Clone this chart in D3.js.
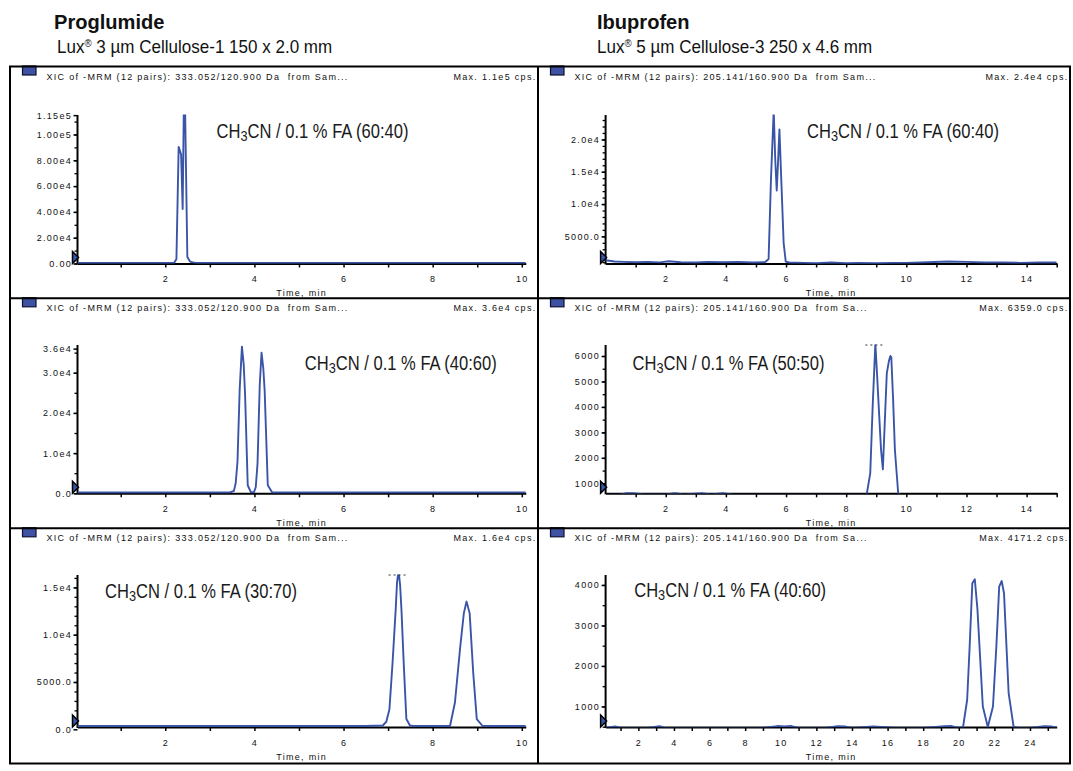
<!DOCTYPE html>
<html><head><meta charset="utf-8">
<script src="https://cdn.jsdelivr.net/npm/d3@7"></script>
<style>
html,body{margin:0;padding:0;background:#fff;}
svg{display:block;}
</style></head><body>
<svg id="chart" width="1073" height="771"></svg>
<script>
// ---------------- DATA ----------------
const compounds = ["Proglumide", "Ibuprofen"];
const columnPrefix = ["Lux", "Lux"];
const columnRest = [" 3 µm Cellulose-1 150 x 2.0 mm", " 5 µm Cellulose-3 250 x 4.6 mm"];
const headerLeft = "XIC of -MRM (12 pairs): 333.052/120.900 Da  from Sam...";
const headerRightA = "XIC of -MRM (12 pairs): 205.141/160.900 Da  from Sam...";
const headerRightB = "XIC of -MRM (12 pairs): 205.141/160.900 Da  from Sa...";
const maxTexts = ["Max. 1.1e5 cps.", "Max. 2.4e4 cps.", "Max. 3.6e4 cps.", "Max. 6359.0 cps.", "Max. 1.6e4 cps.", "Max. 4171.2 cps."];
const ratios = ["60:40", "60:40", "40:60", "50:50", "30:70", "40:60"];
const xAxisTitle = "Time, min";

// Proglumide, CH3CN / 0.1 % FA (60:40)
const p1Time = [0.03, 0.5, 1.0, 1.5, 2.0, 2.2, 2.25, 2.30, 2.355, 2.39, 2.415, 2.445, 2.495, 2.556, 2.62, 2.69, 3.0, 4.0, 5.0, 6.0, 7.0, 8.0, 9.0, 10.09];
const p1Int  = [500, 500, 500, 500, 500, 600, 3500, 90400, 84400, 42300, 118000, 118000, 5000, 1500, 900, 500, 500, 500, 500, 500, 500, 500, 500, 500];
const p1YTicks = [0, 20000, 40000, 60000, 80000, 100000, 115000];
const p1YLabels = ["0.00", "2.00e4", "4.00e4", "6.00e4", "8.00e4", "1.00e5", "1.15e5"];

// Ibuprofen, CH3CN / 0.1 % FA (60:40)
const p2Time = [0, 0.3, 0.6, 1.0, 1.4, 1.8, 2.1, 2.5, 3.0, 3.4, 3.9, 4.4, 4.9, 5.3, 5.42, 5.5, 5.59, 5.64, 5.69, 5.73, 5.78, 5.84, 5.92, 5.99, 6.1, 6.6, 7.0, 7.5, 8.0, 8.4, 9.0, 9.5, 10.0, 10.7, 11.4, 12.0, 12.6, 13.2, 13.8, 14.4, 15.0];
const p2Int  = [1300, 1100, 1050, 1000, 1050, 980, 1150, 1000, 950, 1050, 1000, 1050, 950, 1000, 1500, 14000, 24500, 17000, 12100, 16000, 21560, 14000, 4000, 1100, 950, 900, 850, 950, 850, 900, 850, 900, 900, 1000, 1100, 1050, 950, 950, 900, 950, 950];
const p2YTicks = [5000, 10000, 15000, 20000];
const p2YLabels = ["5000.0", "1.0e4", "1.5e4", "2.0e4"];

// Proglumide, CH3CN / 0.1 % FA (40:60)
const p3Time = [0.03, 1.0, 2.0, 3.0, 3.45, 3.54, 3.58, 3.62, 3.67, 3.72, 3.76, 3.79, 3.85, 3.92, 3.99, 4.03, 4.07, 4.12, 4.16, 4.20, 4.23, 4.30, 4.40, 5.0, 6.0, 7.0, 8.0, 9.0, 10.09];
const p3Int  = [200, 200, 200, 200, 200, 600, 2500, 7850, 26000, 36500, 32000, 24700, 2000, 300, 300, 1500, 7450, 27000, 35000, 31000, 25550, 2000, 200, 200, 200, 200, 200, 200, 200];
const p3YTicks = [0, 10000, 20000, 30000, 36000];
const p3YLabels = ["0.0", "1.0e4", "2.0e4", "3.0e4", "3.6e4"];

// Ibuprofen, CH3CN / 0.1 % FA (50:50)
const p4Time = [0, 0.5, 0.7, 0.9, 1.3, 2.0, 2.3, 2.6, 3.2, 3.5, 3.9, 4.2, 5.0, 6.0, 7.0, 8.0, 8.5, 8.68, 8.80, 8.88, 8.97, 9.03, 9.10, 9.16, 9.22, 9.28, 9.35, 9.42, 9.47, 9.50, 9.56, 9.62, 9.73, 9.85, 10.5, 12.0, 13.5, 15.0];
const p4Int  = [550, 560, 615, 610, 560, 560, 615, 560, 610, 560, 615, 560, 550, 550, 550, 550, 550, 550, 1393, 4000, 6500, 5200, 3616, 2300, 1550, 3300, 5320, 5800, 6000, 5950, 4300, 2308, 600, 520, 520, 520, 520, 520];
const p4YTicks = [1000, 2000, 3000, 4000, 5000, 6000];
const p4YLabels = ["1000", "2000", "3000", "4000", "5000", "6000"];

// Proglumide, CH3CN / 0.1 % FA (30:70)
const p5Time = [0.03, 1.0, 2.0, 3.0, 4.0, 5.0, 6.0, 6.5, 6.88, 6.96, 7.03, 7.10, 7.17, 7.20, 7.235, 7.27, 7.30, 7.35, 7.41, 7.49, 7.57, 8.0, 8.39, 8.50, 8.62, 8.70, 8.76, 8.83, 8.91, 8.99, 9.12, 9.5, 10.09];
const p5Int  = [350, 350, 350, 350, 350, 350, 350, 350, 400, 800, 2130, 7030, 12620, 15500, 16800, 15200, 12620, 7030, 1080, 400, 350, 350, 350, 2830, 8780, 12280, 13500, 12280, 5980, 1080, 350, 350, 350];
const p5YTicks = [0, 5000, 10000, 15000];
const p5YLabels = ["0.0", "5000.0", "1.0e4", "1.5e4"];

// Ibuprofen, CH3CN / 0.1 % FA (40:60)
const p6Time = [0.16, 0.7, 1.0, 2.5, 3.2, 3.5, 5.0, 7.0, 9.0, 9.8, 10.2, 10.6, 11.0, 12.5, 13.2, 13.6, 14.0, 15.2, 16.5, 18.0, 19.2, 19.6, 20.0, 20.24, 20.47, 20.61, 20.76, 20.90, 21.05, 21.35, 21.63, 21.92, 22.11, 22.27, 22.41, 22.54, 22.80, 23.08, 23.4, 24.0, 24.8, 25.2, 25.5];
const p6Int  = [470, 505, 470, 470, 510, 470, 470, 470, 470, 515, 505, 515, 470, 470, 510, 505, 470, 505, 470, 470, 510, 515, 470, 492, 1165, 2479, 4042, 4140, 3383, 1000, 493, 1000, 2480, 3960, 4098, 3795, 1330, 493, 470, 470, 510, 505, 470];
const p6YTicks = [1000, 2000, 3000, 4000];
const p6YLabels = ["1000", "2000", "3000", "4000"];

// ---------------- LAYOUT ----------------
const FONT = "'Liberation Sans', Arial, Helvetica, sans-serif";
const NARROW = "'Liberation Sans Narrow', 'Liberation Sans', Arial, sans-serif";
const TRACE = "#3a55a8";
const rowTop = [66.5, 298.3, 528.3];
const rowAxisY = [263.5, 493.3, 727];
const rowPlotTop = [115, 345, 575];
const colFrame = [[10, 538], [538, 1070]];
const colAxisX = [[77.5, 525.8], [605.6, 1056.7]];

const panels = [
  {row:0, col:0, t:p1Time, v:p1Int, xDom:[0.03, 10.09], yDom:[0, 115100], yMinor:d3.range(0, 115001, 10000), yTicks:p1YTicks, yLabels:p1YLabels, xTicks:d3.range(1, 11), header:headerLeft, ann:[216.6, 138.3], mark:false},
  {row:0, col:1, t:p2Time, v:p2Int, xDom:[0, 15], yDom:[800, 23780], yMinor:d3.range(1000, 23001, 1000), yTicks:p2YTicks, yLabels:p2YLabels, xTicks:d3.range(1, 16), header:headerRightA, ann:[807, 138.3], mark:false},
  {row:1, col:0, t:p3Time, v:p3Int, xDom:[0.03, 10.09], yDom:[0, 36900], yMinor:d3.range(0, 36001, 5000), yTicks:p3YTicks, yLabels:p3YLabels, xTicks:d3.range(1, 11), header:headerLeft, ann:[304.8, 370], mark:false},
  {row:1, col:1, t:p4Time, v:p4Int, xDom:[0, 15], yDom:[607, 6432], yMinor:d3.range(1000, 6001, 500), yTicks:p4YTicks, yLabels:p4YLabels, xTicks:d3.range(1, 16), header:headerRightB, ann:[632.5, 370], mark:true},
  {row:2, col:0, t:p5Time, v:p5Int, xDom:[0.03, 10.09], yDom:[243, 16310], yMinor:d3.range(1000, 16001, 1000), yTicks:p5YTicks, yLabels:p5YLabels, xTicks:d3.range(1, 11), header:headerLeft, ann:[105, 598.3], mark:true},
  {row:2, col:1, t:p6Time, v:p6Int, xDom:[0.16, 25.5], yDom:[492, 4246], yMinor:d3.range(500, 4001, 500), yTicks:p6YTicks, yLabels:p6YLabels, xTicks:d3.range(1, 26), header:headerRightB, ann:[634.2, 597.3], mark:false}
];

const svg = d3.select("#chart");
svg.append("rect").attr("width", 1073).attr("height", 771).attr("fill", "#fff");

function fit(sel, x, y, target) {
  const w = sel.node().getBBox().width;
  const s = target / w;
  sel.attr("transform", `translate(${x},${y}) scale(${s},1)`);
  return s;
}

// ---------------- TITLES ----------------
const titleXs = [54, 597];
let tScale = null, sScale = null;
compounds.forEach((c, i) => {
  const t = svg.append("text").attr("font-family", NARROW).attr("font-weight", "bold")
    .attr("font-size", 19.5).attr("fill", "#111").text(c);
  if (i === 0) tScale = fit(t, titleXs[i], 28.5, 110.6);
  else t.attr("transform", `translate(${titleXs[i]},28.5) scale(${tScale},1)`);
  const s = svg.append("text").attr("font-family", NARROW).attr("font-size", 17.5).attr("fill", "#111");
  s.append("tspan").text(columnPrefix[i]);
  s.append("tspan").attr("font-size", 10).attr("dy", -6).text("®");
  s.append("tspan").attr("dy", 6).text(columnRest[i]);
  if (i === 0) sScale = fit(s, titleXs[i] + 3, 53.3, 275.5);
  else s.attr("transform", `translate(${titleXs[i]},53.3) scale(${sScale},1)`);
});

// ---------------- PANELS ----------------
panels.forEach((p, idx) => {
  const [fx0, fx1] = colFrame[p.col];
  const [x0, x1] = colAxisX[p.col];
  const ay = rowAxisY[p.row], py = rowPlotTop[p.row], rt = rowTop[p.row];
  const x = d3.scaleLinear().domain(p.xDom).range([x0, x1]);
  const y = d3.scaleLinear().domain(p.yDom).range([ay, py]);
  const g = svg.append("g");

  // header
  g.append("rect").attr("x", fx0 + 12.5).attr("y", rt - 0.5).attr("width", 13.5).attr("height", 9)
    .attr("fill", "#3d52a3").attr("stroke", "#101030").attr("stroke-width", 1.2);
  g.append("text").attr("x", fx0 + 36.5).attr("y", rt + 13).attr("font-family", FONT).attr("font-size", 9)
    .style("letter-spacing", "1.3px").style("white-space", "pre").attr("fill", "#111").text(p.header);
  g.append("text").attr("x", fx1 - 1.5).attr("y", rt + 13).attr("text-anchor", "end").attr("font-family", FONT).attr("font-size", 9)
    .style("letter-spacing", "1.3px").attr("fill", "#111").text(maxTexts[idx]);

  // y minor ticks
  g.append("g").attr("transform", `translate(${x0},0)`)
    .call(d3.axisLeft(y).tickValues(p.yMinor).tickFormat("").tickSize(3).tickSizeOuter(0))
    .call(a => a.select(".domain").remove())
    .call(a => a.selectAll("line").attr("stroke", "#000").attr("stroke-width", 1.3));
  // y labeled ticks
  g.append("g").attr("transform", `translate(${x0},0)`)
    .call(d3.axisLeft(y).tickValues(p.yTicks).tickFormat((d, i) => p.yLabels[i]).tickSize(4).tickPadding(1.5).tickSizeOuter(0))
    .call(a => a.select(".domain").remove())
    .call(a => a.selectAll("line").attr("stroke", "#000").attr("stroke-width", 1.5))
    .call(a => a.attr("font-family", FONT).attr("font-size", 9))
    .call(a => a.selectAll("text").attr("fill", "#111").style("letter-spacing", "1.3px"));
  // y axis line
  g.append("path").attr("d", d3.line()([[x0, y.range()[1]], [x0, ay + 1]]))
    .attr("stroke", "#000").attr("stroke-width", 2).attr("fill", "none");

  // x axis
  g.append("g").attr("transform", `translate(0,${ay})`)
    .call(d3.axisBottom(x).tickValues(p.xTicks).tickFormat(d => d % 2 === 0 ? d : "").tickSize(4).tickPadding(8.5).tickSizeOuter(0))
    .call(a => a.select(".domain").attr("stroke", "#000").attr("stroke-width", 2))
    .call(a => a.selectAll(".tick line").attr("stroke", "#000").attr("stroke-width", 1.5))
    .call(a => a.attr("font-family", FONT).attr("font-size", 9))
    .call(a => a.selectAll("text").attr("fill", "#111").style("letter-spacing", "1.3px"));
  g.append("text").attr("x", (x0 + x1) / 2).attr("y", ay + 32.5).attr("text-anchor", "middle")
    .attr("font-family", FONT).attr("font-size", 9).style("letter-spacing", "1.3px").attr("fill", "#111").text(xAxisTitle);

  // trace
  const cid = "clip" + idx;
  svg.append("clipPath").attr("id", cid).append("rect")
    .attr("x", x0).attr("y", py - 0.5).attr("width", x1 - x0).attr("height", ay - py + 0.8);
  g.append("path").datum(d3.zip(p.t, p.v)).attr("clip-path", `url(#${cid})`)
    .attr("d", d3.line().x(d => x(d[0])).y(d => y(d[1])))
    .attr("fill", "none").attr("stroke", TRACE).attr("stroke-width", 1.9).attr("stroke-linejoin", "round");

  // start marker
  g.append("path").attr("d", `M${x0 - 5},${ay - 12} L${x0 + 1},${ay - 6} L${x0 - 5},${ay} Z`)
    .attr("fill", TRACE).attr("stroke", "#000").attr("stroke-width", 1.5);

  // clipped-peak marker
  if (p.mark) {
    const i = d3.maxIndex(p.v);
    const px = x(p.t[i]);
    g.append("path").attr("d", d3.line()([[px - 10, py], [px + 10, py]]))
      .attr("stroke", "#333").attr("stroke-width", 1).attr("stroke-dasharray", "2,3");
  }

  // annotation
  const a = g.append("text").attr("font-family", NARROW).attr("font-size", 19.5).attr("fill", "#1a1a1a");
  a.append("tspan").text("CH");
  a.append("tspan").attr("font-size", 15).attr("dy", 3).text("3");
  a.append("tspan").attr("dy", -3).text(`CN / 0.1 % FA (${ratios[idx]})`);
  fit(a, p.ann[0], p.ann[1], 192);
});

// ---------------- FRAME ----------------
svg.append("rect").attr("x", 10).attr("y", 66.5).attr("width", 1060).attr("height", 697)
  .attr("fill", "none").attr("stroke", "#000").attr("stroke-width", 2);
svg.append("path").attr("d", d3.line()([[538, 66.5], [538, 763.5]])).attr("stroke", "#000").attr("stroke-width", 2);
rowTop.slice(1).forEach(ry => {
  svg.append("path").attr("d", d3.line()([[10, ry], [1070, ry]])).attr("stroke", "#000").attr("stroke-width", 2);
});
</script>
</body></html>
